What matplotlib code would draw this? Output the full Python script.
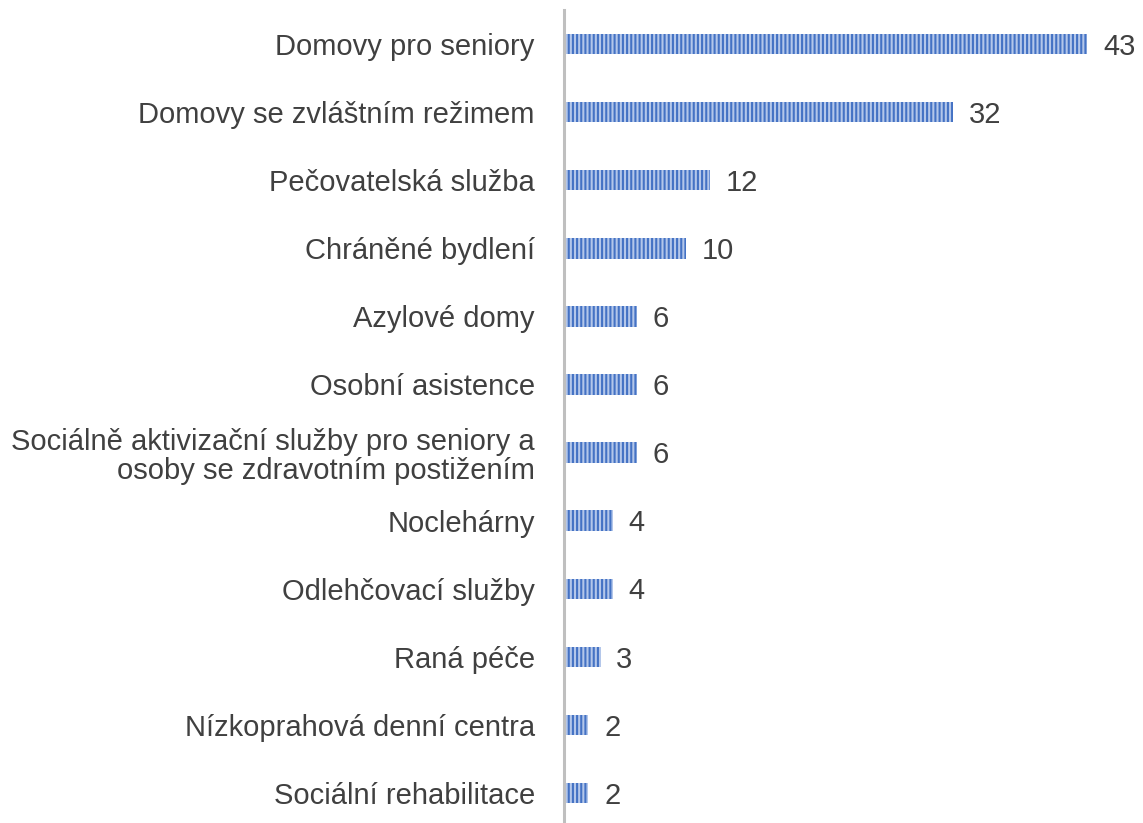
import matplotlib.pyplot as plt
import matplotlib as mpl

plt.rcParams['font.family'] = ['Liberation Sans', 'DejaVu Sans']
plt.rcParams['hatch.linewidth'] = 1.5

# data (top to bottom)
labels = ["Domovy pro seniory",
          "Domovy se zvláštním režimem",
          "Pečovatelská služba",
          "Chráněné bydlení",
          "Azylové domy",
          "Osobní asistence",
          "Sociálně aktivizační služby pro seniory a\nosoby se zdravotním postižením",
          "Noclehárny",
          "Odlehčovací služby",
          "Raná péče",
          "Nízkoprahová denní centra",
          "Sociální rehabilitace"]
values = [43, 32, 12, 10, 6, 6, 6, 4, 4, 3, 2, 2]

fig = plt.figure(figsize=(11.43, 8.23), dpi=100)
ax = fig.add_axes([564 / 1143, 0.0, (1143 - 564) / 1143, 1 - 10 / 823])

y = list(range(len(labels)))
bars = ax.barh(y, values, height=0.3, color='#B4C7EA', edgecolor='#4472C4',
               hatch='||||', linewidth=0)

# value labels, nudged slightly down like the original
for yi, v in zip(y, values):
    ax.text(v + 1.3, yi + 0.04, str(v), va='center', ha='left', fontsize=21, color='#404040')

ax.set_yticks(y)
ax.set_yticklabels(labels, fontsize=21, color='#404040', linespacing=1.08)
ax.tick_params(axis='y', length=0, pad=21)
ax.set_xticks([])
ax.set_xlim(0, (1143 - 564) / 12.17)
ax.set_ylim(len(labels) - 0.56, -0.5)

for s in ['top', 'right', 'bottom']:
    ax.spines[s].set_visible(False)
ax.spines['left'].set_color('#BFBFBF')
ax.spines['left'].set_linewidth(2.2)

fig.savefig('out.png', dpi=100)
